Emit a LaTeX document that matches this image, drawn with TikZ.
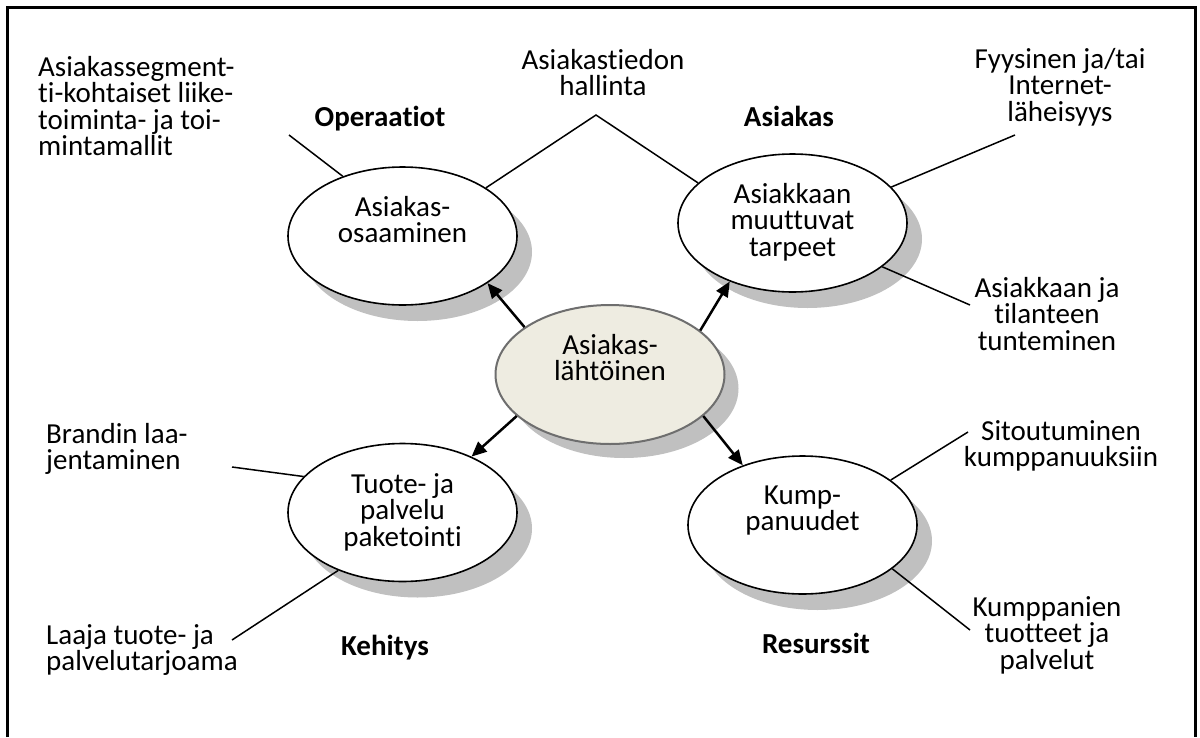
\documentclass[tikz,border=0pt]{standalone}
\usepackage{fontspec}
\setmainfont{Carlito}[Ligatures=NoCommon]
\usetikzlibrary{shapes.geometric,shadows,arrows.meta}
\definecolor{shadowgray}{RGB}{192,192,192}
\definecolor{centerfill}{RGB}{238,236,225}
\definecolor{centerdraw}{RGB}{110,110,110}
\newcommand\lblfont{\fontsize{29}{26.5}\selectfont}
\newcommand\fst{\rule{0pt}{24pt}}
\tikzset{
  ell/.style={ellipse, draw=black, line width=1.6pt, fill=white, inner sep=0pt,
    minimum width=229pt, minimum height=138pt,
    drop shadow={shadow xshift=15pt, shadow yshift=-16pt, fill=shadowgray, opacity=1}},
  ellc/.style={ellipse, draw=centerdraw, line width=2pt, fill=centerfill, inner sep=0pt,
    minimum width=229pt, minimum height=139pt,
    drop shadow={shadow xshift=14pt, shadow yshift=-14pt, fill=shadowgray, opacity=1}},
  lab/.style={inner sep=0pt, anchor=north, align=center, font=\lblfont},
  labl/.style={inner sep=0pt, anchor=north west, align=left, font=\lblfont},
  labb/.style={inner sep=0pt, anchor=north, align=center, font=\lblfont\bfseries},
  ln/.style={draw=black, line width=1.5pt},
  arr/.style={draw=black, line width=2.5pt, -{Triangle[length=15pt,width=13pt]}},
}
\begin{document}
\begin{tikzpicture}[x=1pt,y=-1pt]
\useasboundingbox[fill=white] (0,0) rectangle (1200,737);
% frame
\draw[line width=3pt] (7,737) -- (7,7) -- (1195,7) -- (1195,737);

% ellipses
\node[ell]  (o) at (402.5,236) {};
\node[ell]  (a) at (792.5,223) {};
\node[ell]  (t) at (402.5,512.5) {};
\node[ell]  (k) at (802.5,525) {};
\node[ellc] (c) at (610,374.5) {};

% ellipse texts
\node[lab] (ot) at (402.5,216-24) {\fst Asiakas-\\osaaminen};
\node[lab] (at) at (792.5,203-24) {\fst Asiakkaan\\muuttuvat\\tarpeet};
\node[lab] (tt) at (402.5,493-24) {\fst Tuote- ja\\palvelu\\paketointi};
\node[lab] (kt) at (802.5,504-24) {\fst Kump-\\panuudet};
\node[lab] (ct) at (610,354-24) {\fst Asiakas-\\lähtöinen};

% arrows
\draw[arr] (c.151.5) -- (o.-29.1);
\draw[arr] (c.26.3) -- (a.-137.4);
\draw[arr] (c.204) -- (t.39.5);
\draw[arr] (c.-24.8) -- (k.135.2);

% free ends of connectors
\coordinate (e1) at (289,135);
\coordinate (apex) at (596,115);
\coordinate (e3) at (1015,135);
\coordinate (e4) at (970,305);
\coordinate (e5) at (232,467);
\coordinate (e6) at (232,640);
\coordinate (e7) at (968,432);
\coordinate (e8) at (970,630);

\draw[ln] (o.135.7) -- (e1);
\draw[ln] (o.30.9) -- (apex) -- (a.157.9);
\draw[ln] (a.20.9) -- (e3);
\draw[ln] (a.-26.7) -- (e4);
\draw[ln] (t.160.7) -- (e5);
\draw[ln] (t.222.2) -- (e6);
\draw[ln] (k.27.7) -- (e7);
\draw[ln] (k.-26.7) -- (e8);

% outer labels
\node[labl] (l1) at (38,76-24) {\fst Asiakassegment-\\ti-kohtaiset liike-\\toiminta- ja toi-\\mintamallit};
\node[lab]  (l2) at (603,69-24) {\fst Asiakastiedon\\hallinta};
\node[labb] (l3) at (380,126-24) {\fst Operaatiot};
\node[labb] (l4) at (789,126-24) {\fst Asiakas};
\node[lab]  (l5) at (1060,68-24) {\fst Fyysinen ja/tai\\Internet-\\läheisyys};
\node[lab]  (l6) at (1047,297-24) {\fst Asiakkaan ja\\tilanteen\\tunteminen};
\node[labl] (l7) at (46,443-24) {\fst Brandin laa-\\jentaminen};
\node[labl] (l8) at (46,644-24) {\fst Laaja tuote- ja\\palvelutarjoama};
\node[labb] (l9) at (385,655-24) {\fst Kehitys};
\node[lab]  (l10) at (1061,440-24) {\fst Sitoutuminen\\kumppanuuksiin};
\node[lab]  (l11) at (1047,616-24) {\fst Kumppanien\\tuotteet ja\\palvelut};
\node[labb] (l12) at (816,653-24) {\fst Resurssit};
\end{tikzpicture}
\end{document}
